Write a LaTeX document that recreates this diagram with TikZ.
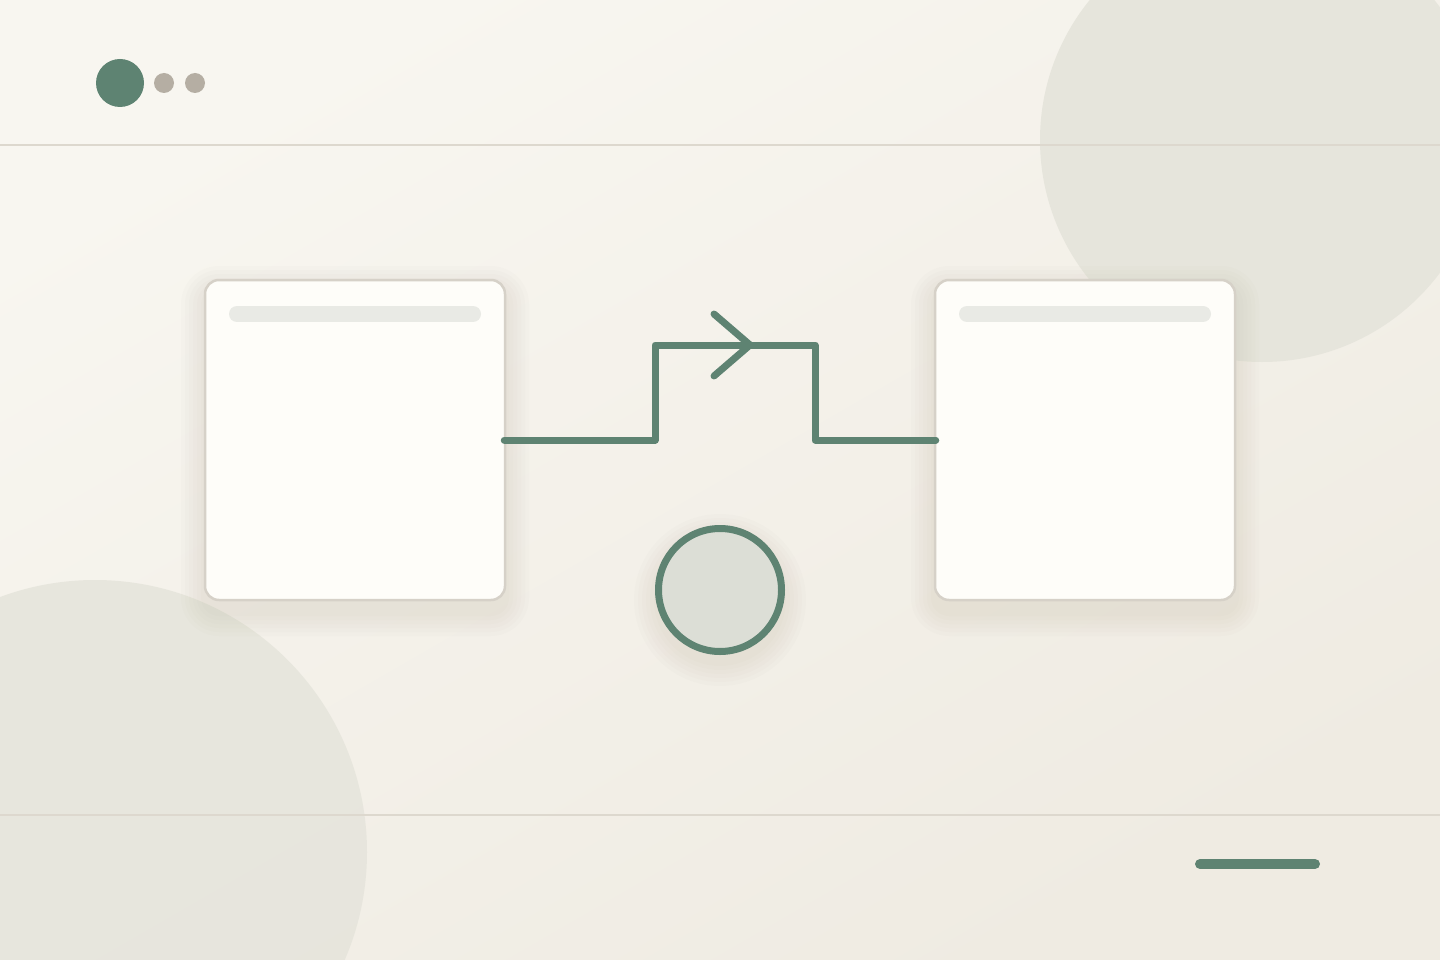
\documentclass[tikz,border=0pt]{standalone}
\definecolor{bgA}{HTML}{F8F6F0}
\definecolor{bgB}{HTML}{EFEBE2}
\definecolor{blob}{HTML}{E6E5DC}
\definecolor{rule}{HTML}{DDD8CE}
\definecolor{accent}{HTML}{5E8372}
\definecolor{dotgrey}{HTML}{B5AEA3}
\definecolor{card}{HTML}{FEFDF9}
\definecolor{cardedge}{HTML}{D6D1C8}
\definecolor{bar}{HTML}{E9EAE5}
\definecolor{discfill}{HTML}{DCDED6}
\definecolor{shadowc}{HTML}{8A8270}
\tikzset{
  cardbox/.style={draw=cardedge, line width=2.5pt, fill=card, rounded corners=14pt,
    minimum width=300pt, minimum height=320pt, inner sep=0pt},
  barline/.style={bar, line width=16pt, line cap=round},
  wire/.style={accent, line width=7pt, line cap=round, line join=round},
  dotnode/.style={circle, inner sep=0pt, draw=none},
  softshadow/.style={fill=shadowc, fill opacity=0.018}
}
\begin{document}
\begin{tikzpicture}[x=1pt,y=-1pt]
\useasboundingbox (0,0) rectangle (1440,960);
\shade[top color=bgA, bottom color=bgB, shading angle=30] (0,0) rectangle (1440,960);
% background blobs
\fill[blob] (1262,140) circle (222);
\fill[blob, opacity=0.9] (95,852) circle (272);
% rules
\draw[rule, line width=2pt] (0,145) -- (1440,145);
\draw[rule, line width=2pt] (0,815) -- (1440,815);
% header dots
\node[dotnode, fill=accent, minimum size=48pt] (d1) at (120,83) {};
\node[dotnode, fill=dotgrey, minimum size=20pt] (d2) at (164,83) {};
\node[dotnode, fill=dotgrey, minimum size=20pt] (d3) at (195,83) {};
% soft shadows
\foreach \e in {4,8,12,16,20,24}{
  \fill[softshadow, rounded corners=14pt+\e] (205-\e,290-\e) rectangle (505+\e,612+\e);
  \fill[softshadow, rounded corners=14pt+\e] (935-\e,290-\e) rectangle (1235+\e,612+\e);
  \fill[softshadow] (720,600) circle (62+\e);
}
% cards
\node[cardbox] (L) at (355,440) {};
\node[cardbox] (R) at (1085,440) {};
\draw[barline] (237,314) -- (473,314);
\draw[barline] (967,314) -- (1203,314);
% connector
\coordinate (p1) at (655,440);
\coordinate (p2) at (655,345);
\coordinate (p3) at (815,345);
\coordinate (p4) at (815,440);
\draw[wire] ([xshift=-2pt]L.east) -- (p1) -- (p2) -- (p3) -- (p4) -- ([xshift=2pt]R.west);
\coordinate (tip) at (750,345);
\coordinate (a1) at (714,314);
\coordinate (a2) at (714,376);
\draw[wire] (a1) -- (tip) -- (a2);
% disc
\node[circle, draw=accent, line width=7pt, fill=discfill, minimum size=123pt, inner sep=0pt] (C) at (720,590) {};
% footer line
\coordinate (f1) at (1200,864);
\coordinate (f2) at (1315,864);
\draw[accent, line width=10pt, line cap=round] (f1) -- (f2);
\end{tikzpicture}
\end{document}
